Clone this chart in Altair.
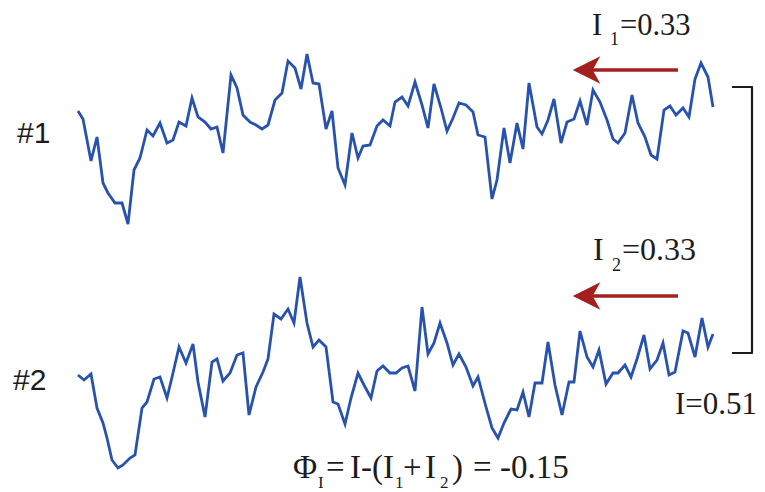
import altair as alt
import pandas as pd

# ---- data (time index, signal value) ----
s1_t = [0, 5, 13, 19, 25, 30, 37, 44, 50, 56, 62, 69, 75, 82, 89, 95, 101, 108, 114, 120,
        127, 133, 139, 145, 153, 159, 165, 172, 178, 184, 190, 197, 204, 210, 217, 223, 229, 235, 241, 248,
        254, 260, 267, 274, 280, 285, 292, 299, 305, 312, 317, 324, 330, 337, 344, 350, 356, 363, 369, 375,
        381, 388, 395, 400, 407, 414, 419, 426, 432, 439, 445, 451, 459, 464, 470, 476, 483, 489, 496, 502,
        509, 515, 522, 529, 535, 540, 547, 554, 560, 567, 573, 579, 586, 592, 598, 605, 611, 617, 623, 630, 635]
s1_v = [19, 11, -31, -7, -53, -63, -73, -73, -94, -40, -28, 0, -6, 7, -13, -10, 8, 4, 32, 13,
        8, 1, 3, -23, 55, 42, 15, 8, 5, 1, 5, 30, 37, 69, 62, 41, 76, 47, 46, 1,
        19, -38, -55, -3, -28, -16, -15, 4, 10, 4, 28, 33, 24, 48, 25, 2, 46, 22, -1, 12,
        27, 25, 18, -5, -7, -69, -50, 2, -33, 7, -19, 47, 3, -4, 10, 31, -13, 8, 11, 29,
        5, 40, 28, 10, -9, -13, -3, 35, 7, -7, -25, -29, 20, 24, 15, 22, 13, 51, 67, 53, 23]

s2_t = [0, 6, 13, 19, 25, 29, 34, 40, 45, 52, 57, 64, 69, 76, 82, 89, 95, 101, 108, 115,
        120, 127, 134, 139, 145, 152, 159, 165, 171, 178, 185, 190, 196, 203, 210, 216, 222, 229, 235, 241,
        248, 255, 260, 267, 273, 280, 286, 293, 299, 305, 312, 318, 324, 330, 337, 344, 350, 356, 362, 369,
        375, 381, 388, 395, 400, 408, 414, 420, 426, 433, 439, 445, 451, 457, 464, 470, 477, 484, 491, 496,
        502, 509, 515, 521, 528, 535, 540, 547, 553, 559, 566, 572, 579, 585, 591, 597, 605, 610, 617, 624, 630, 635]
s2_v = [5, 0, 6, -28, -43, -58, -80, -88, -85, -78, -75, -28, -22, 1, 3, -18, 7, 33, 17, 36,
        -2, -37, 18, 21, -1, 7, 25, 27, -35, -7, 8, 21, 66, 61, 71, 57, 103, 57, 33, 40,
        33, -22, -24, -44, -18, 7, -5, -18, 9, 14, 7, 7, 12, 14, -11, 73, 26, 37, 57, 37,
        15, 26, 13, -6, 3, -27, -48, -58, -43, -29, -30, -12, -37, -3, -3, 38, -5, -35, -2, -2,
        49, 23, 13, 30, -4, 7, 7, 15, 3, 21, 45, 11, 20, 37, 5, 8, 49, 47, 23, 62, 33, 46]

series_names = ["#1", "#2"]
series_offset = [250, 0]

labels_text = ["I", "1", "=0.33", "I", "2", "=0.33", "I=0.51",
               "Φ", "I", "=", "I-(I", "1", "+", "I", "2", ")", "=", "-0.15"]

BLUE = "#2752ad"
RED = "#a3201f"
INK = "#1c1c1c"

# ---- tables ----
rows = []
for name, off, ts, vs in [("#1", series_offset[0], s1_t, s1_v), ("#2", series_offset[1], s2_t, s2_v)]:
    for t, v in zip(ts, vs):
        rows.append({"series": name, "t": t, "y": v + off})
lines_df = pd.DataFrame(rows)

X = alt.Scale(domain=[-70, 679])
Y = alt.Scale(domain=[-112, 372])


def xenc(f="t"):
    return alt.X(f + ":Q", scale=X, axis=None)


def yenc(f="y"):
    return alt.Y(f + ":Q", scale=Y, axis=None)


lines = alt.Chart(lines_df).mark_line(color=BLUE, strokeWidth=2.8, strokeJoin="miter").encode(
    x=xenc(), y=yenc(), detail="series:N"
)

# bracket
br_df = pd.DataFrame({"t": [654, 674, 674, 654], "y": [293, 293, 27, 27], "o": [0, 1, 2, 3]})
bracket = alt.Chart(br_df).mark_line(color=INK, strokeWidth=2.2, strokeJoin="round").encode(
    x=xenc(), y=yenc(), order="o:Q"
)

# arrows
ar_df = pd.DataFrame({"t0": [512, 512], "t1": [600, 600], "th": [508.5, 508.5], "y": [310, 84]})
shafts = alt.Chart(ar_df).mark_rule(color=RED, strokeWidth=3.4).encode(
    x=xenc("t0"), x2=alt.X2("t1:Q"), y=yenc()
)
heads = alt.Chart(ar_df).mark_point(
    shape="M -1 0 L 1 -1 L 0.45 0 L 1 1 Z", filled=True, color=RED, opacity=1, size=760
).encode(x=xenc("th"), y=yenc())

# serif annotations
tx_df = pd.DataFrame({
    "text": labels_text,
    "t": [514, 532, 542, 515, 534, 544, 597,
          215, 240, 248, 272, 317, 325, 347, 362, 374, 395, 422],
    "y": [345, 335, 345, 120, 109, 120, -34,
          -98, -108, -98, -98, -108, -98, -98, -108, -98, -98, -98],
    "fs": [30.5, 18, 30.5, 32, 18, 32, 31,
           33, 17, 33, 33, 17, 33, 33, 17, 33, 33, 33],
})
texts = alt.Chart(tx_df).mark_text(
    align="left", baseline="alphabetic", font="Liberation Serif", color=INK
).encode(x=xenc(), y=yenc(), text="text:N", size=alt.Size("fs:Q", scale=None))

# series labels
lab_df = pd.DataFrame({"text": series_names, "t": [-61, -65], "y": [237, -10]})
labels = alt.Chart(lab_df).mark_text(
    align="left", baseline="alphabetic", font="Liberation Sans", fontSize=30, color=INK
).encode(x=xenc(), y=yenc(), text="text:N")

chart = alt.layer(lines, bracket, shafts, heads, texts, labels).properties(
    width=749, height=484, padding=0,
    autosize=alt.AutoSizeParams(type="none"),
    background="white",
).configure_view(stroke=None)

chart.save("out.html", embed_options={"renderer": "svg", "actions": False})
